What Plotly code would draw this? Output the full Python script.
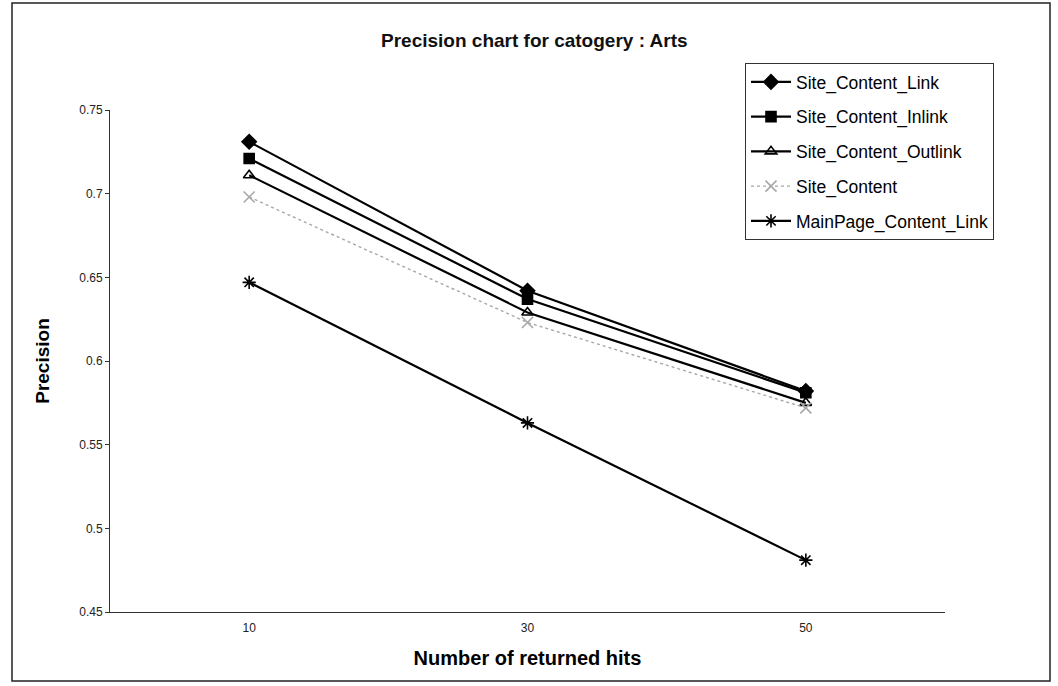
import plotly.graph_objects as go

# Number of returned hits
hits = [10, 30, 50]

# Precision per ranking method
site_content_link = [0.731, 0.642, 0.582]
site_content_inlink = [0.721, 0.637, 0.581]
site_content_outlink = [0.711, 0.629, 0.575]
site_content = [0.698, 0.623, 0.572]
mainpage_content_link = [0.647, 0.563, 0.481]

y_ticks = [0.45, 0.5, 0.55, 0.6, 0.65, 0.7, 0.75]

series = [
    ("Site_Content_Link", site_content_link, "diamond", "#000000", "solid", 11),
    ("Site_Content_Inlink", site_content_inlink, "square", "#000000", "solid", 10),
    ("Site_Content_Outlink", site_content_outlink, "triangle-up-open", "#000000", "solid", 10),
    ("Site_Content", site_content, "x-thin-open", "#a8a8a8", "dot", 11),
    ("MainPage_Content_Link", mainpage_content_link, "asterisk-open", "#000000", "solid", 11),
]

fig = go.Figure()
for i, (name, vals, sym, col, dash, size) in enumerate(series):
    fig.add_trace(go.Scatter(
        x=hits, y=vals, name=name, mode="lines+markers",
        legendgroup=f"g{i}",
        line=dict(color=col, width=2.2 if dash == "solid" else 1.4, dash=dash),
        marker=dict(symbol=sym, size=size, color=col,
                    line=dict(color=col, width=1.6)),
    ))

W, H = 1058, 686
L, R, T, B = 110, 113, 110, 74
pw, ph = W - L - R, H - T - B

def px_x(p):
    return (p - L) / pw

def px_y(p):
    return (H - B - p) / ph

fig.update_layout(
    width=W, height=H,
    margin=dict(l=L, r=R, t=T, b=B),
    paper_bgcolor="white", plot_bgcolor="white",
    font=dict(family="Liberation Sans, Arial, sans-serif", color="#000000"),
    title=dict(text="<b>Precision chart for catogery : Arts</b>",
               x=0.505, xanchor="center", y=1 - 40 / H, yanchor="middle",
               font=dict(size=19, color="#111111")),
    xaxis=dict(range=[0, 60], tickvals=hits, ticktext=[str(h) for h in hits],
               showgrid=False, zeroline=False, showline=True, linecolor="#333333",
               linewidth=1, ticks="outside", ticklen=5, tickcolor="rgba(0,0,0,0)",
               tickfont=dict(size=12, color="#222222"),
               title=dict(text="<b>Number of returned hits</b>",
                          font=dict(size=20), standoff=16)),
    yaxis=dict(range=[0.45, 0.75], tickvals=y_ticks,
               ticktext=[f"{v:g}" for v in y_ticks],
               showgrid=False, zeroline=False, showline=True, linecolor="#333333",
               linewidth=1, ticks="outside", ticklen=4, tickcolor="#333333",
               tickfont=dict(size=12, color="#222222"),
               title=dict(text="<b>Precision</b>", font=dict(size=19), standoff=24)),
    legend=dict(x=px_x(745), y=px_y(63), xanchor="left", yanchor="top",
                bgcolor="white", bordercolor="#333333", borderwidth=1,
                font=dict(size=17.5), tracegroupgap=9,
                itemwidth=40),
    showlegend=True,
)

# Outer frame around the whole chart
fig.add_shape(type="rect", xref="paper", yref="paper",
              x0=px_x(12), x1=px_x(1050), y0=px_y(681), y1=px_y(3),
              line=dict(color="#222222", width=1.5), fillcolor="rgba(0,0,0,0)",
              layer="below")

fig.write_html("out.html")
